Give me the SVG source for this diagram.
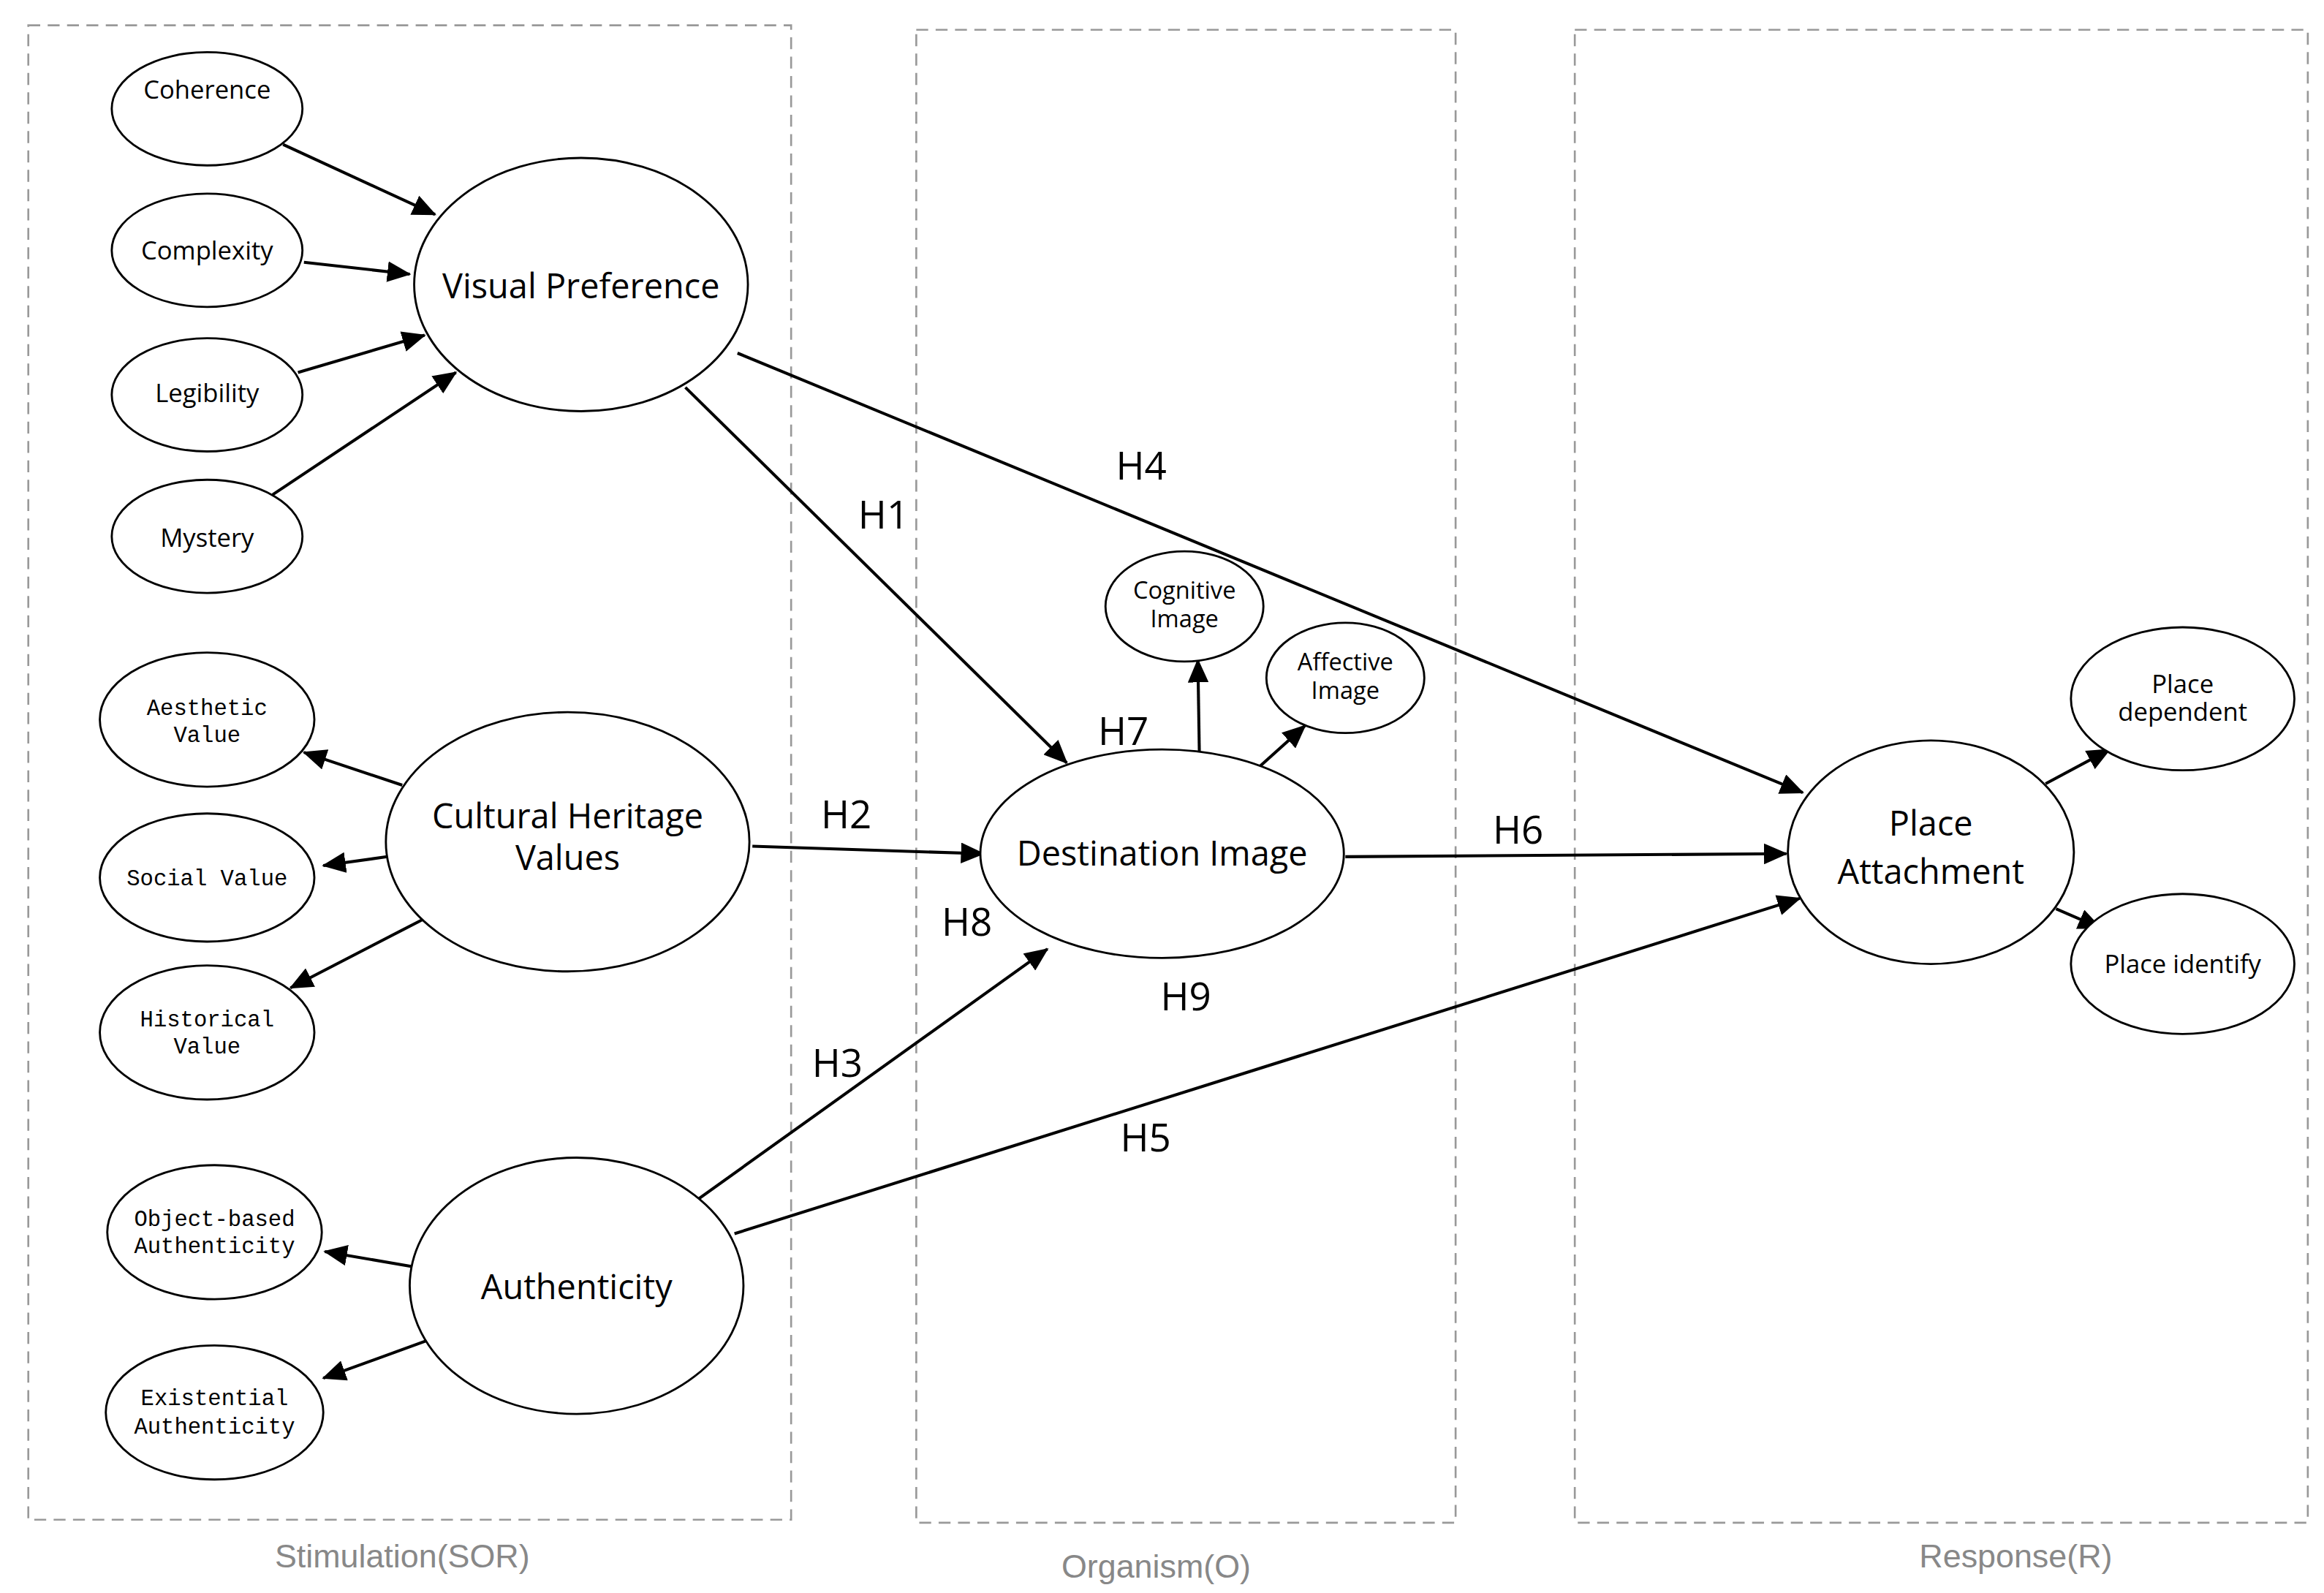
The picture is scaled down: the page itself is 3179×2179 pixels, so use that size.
<svg xmlns="http://www.w3.org/2000/svg" width="3179" height="2179" viewBox="0 0 3179 2179">
<style>
.box{fill:none;stroke:#999;stroke-width:1.3;stroke-dasharray:8 5}
.cap{font-family:"Liberation Sans",sans-serif;font-size:22px;fill:#888;text-anchor:middle}
ellipse{fill:#fff;stroke:#000;stroke-width:1.4}
.t{font-family:"Open Sans","Liberation Sans",sans-serif;text-anchor:middle;fill:#000}
.s{font-size:17px}.b{font-size:23px}.c{font-size:16px}
.m{font-family:"Liberation Mono",monospace;font-size:15px;text-anchor:middle;fill:#000}
.h{font-family:"Open Sans","Liberation Sans",sans-serif;font-size:26px;text-anchor:middle;fill:#000}
#conn line{stroke:#000;stroke-width:2;marker-end:url(#a)}
</style>
<defs><marker id="a" markerUnits="userSpaceOnUse" markerWidth="16" markerHeight="14" refX="15" refY="7" orient="auto"><path d="M0,0L16,7L0,14z" fill="#000"/></marker></defs>
<rect width="3179" height="2179" fill="#fff"/>
<g transform="scale(2.038)">
<g id="frames">
<rect class="box" x="19" y="17" width="512" height="1003"/>
<rect class="box" x="615" y="20" width="362" height="1002"/>
<rect class="box" x="1057" y="20" width="492" height="1002"/>
<text class="cap" x="270" y="1052">Stimulation(SOR)</text>
<text class="cap" x="776" y="1059">Organism(O)</text>
<text class="cap" x="1353" y="1052">Response(R)</text>
</g>
<g id="conn">
<line x1="190" y1="97" x2="292" y2="144"/>
<line x1="204" y1="176" x2="275" y2="184"/>
<line x1="200" y1="250" x2="285" y2="225"/>
<line x1="183" y1="332" x2="306" y2="250"/>
<line x1="270" y1="527" x2="204" y2="505"/>
<line x1="260" y1="575" x2="217" y2="581"/>
<line x1="284" y1="617" x2="195" y2="663"/>
<line x1="276" y1="850" x2="218" y2="840"/>
<line x1="286" y1="900" x2="217" y2="925"/>
<line x1="460" y1="260" x2="716" y2="512"/>
<line x1="495" y1="237" x2="1210" y2="532"/>
<line x1="505" y1="568" x2="660" y2="573"/>
<line x1="467" y1="806" x2="703" y2="637"/>
<line x1="493" y1="828" x2="1208" y2="603"/>
<line x1="903" y1="575" x2="1199" y2="573"/>
<line x1="805" y1="505" x2="804" y2="443"/>
<line x1="846" y1="514" x2="876" y2="487"/>
<line x1="1373" y1="526" x2="1416" y2="503"/>
<line x1="1380" y1="610" x2="1410" y2="623"/>
<text class="h" x="766" y="322">H4</text>
<text class="h" x="593" y="355">H1</text>
<text class="h" x="754" y="500">H7</text>
<text class="h" x="568" y="556">H2</text>
<text class="h" x="1019" y="566">H6</text>
<text class="h" x="649" y="628">H8</text>
<text class="h" x="796" y="678">H9</text>
<text class="h" x="562" y="723">H3</text>
<text class="h" x="769" y="773">H5</text>
</g>
<g id="coherence"><ellipse cx="139" cy="73" rx="64" ry="38"/><text class="t s" x="139" y="66">Coherence</text></g>
<g id="complexity"><ellipse cx="139" cy="168" rx="64" ry="38"/><text class="t s" x="139" y="174">Complexity</text></g>
<g id="legibility"><ellipse cx="139" cy="265" rx="64" ry="38"/><text class="t s" x="139" y="270">Legibility</text></g>
<g id="mystery"><ellipse cx="139" cy="360" rx="64" ry="38"/><text class="t s" x="139" y="367">Mystery</text></g>
<g id="visual-preference"><ellipse cx="390" cy="191" rx="112" ry="85"/><text class="t b" x="390" y="200">Visual Preference</text></g>
<g id="aesthetic"><ellipse cx="139" cy="483" rx="72" ry="45"/><text class="m" x="139" y="480">Aesthetic</text><text class="m" x="139" y="498">Value</text></g>
<g id="social"><ellipse cx="139" cy="589" rx="72" ry="43"/><text class="m" x="139" y="594">Social Value</text></g>
<g id="historical"><ellipse cx="139" cy="693" rx="72" ry="45"/><text class="m" x="139" y="689">Historical</text><text class="m" x="139" y="707">Value</text></g>
<g id="cultural"><ellipse cx="381" cy="565" rx="122" ry="87"/><text class="t b" x="381" y="556">Cultural Heritage</text><text class="t b" x="381" y="584">Values</text></g>
<g id="object-based"><ellipse cx="144" cy="827" rx="72" ry="45"/><text class="m" x="144" y="823">Object-based</text><text class="m" x="144" y="841">Authenticity</text></g>
<g id="existential"><ellipse cx="144" cy="948" rx="73" ry="45"/><text class="m" x="144" y="943">Existential</text><text class="m" x="144" y="962">Authenticity</text></g>
<g id="authenticity"><ellipse cx="387" cy="863" rx="112" ry="86"/><text class="t b" x="387" y="872">Authenticity</text></g>
<g id="destination"><ellipse cx="780" cy="573" rx="122" ry="70"/><text class="t b" x="780" y="581">Destination Image</text></g>
<g id="cognitive"><ellipse cx="795" cy="407" rx="53" ry="37"/><text class="t c" x="795" y="402">Cognitive</text><text class="t c" x="795" y="421">Image</text></g>
<g id="affective"><ellipse cx="903" cy="455" rx="53" ry="37"/><text class="t c" x="903" y="450">Affective</text><text class="t c" x="903" y="469">Image</text></g>
<g id="place-attachment"><ellipse cx="1296" cy="572" rx="96" ry="75"/><text class="t b" x="1296" y="561">Place</text><text class="t b" x="1296" y="593">Attachment</text></g>
<g id="place-dependent"><ellipse cx="1465" cy="469" rx="75" ry="48"/><text class="t s" x="1465" y="465">Place</text><text class="t s" x="1465" y="484">dependent</text></g>
<g id="place-identify"><ellipse cx="1465" cy="647" rx="75" ry="47"/><text class="t s" x="1465" y="653">Place identify</text></g>
</g>
</svg>
